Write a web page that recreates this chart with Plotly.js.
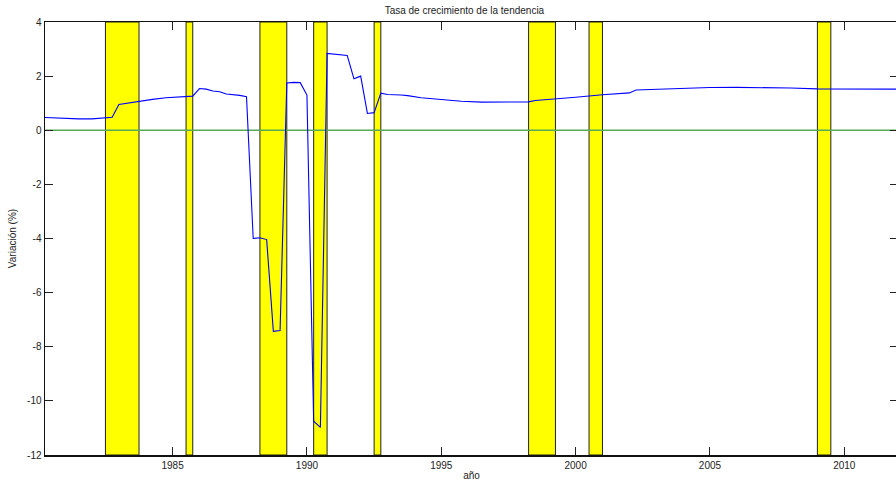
<!DOCTYPE html>
<html>
<head>
<meta charset="utf-8">
<script src="https://cdn.plot.ly/plotly-3.0.1.min.js"></script>
<style>
html,body{margin:0;padding:0;overflow:hidden;background:#fff;}
#chart{width:900px;height:482px;}
</style>
</head>
<body>
<div id="chart"></div>
<script>
// Trend growth rate (quarterly, %)
var years = [1980.25,1980.75,1981.5,1982.0,1982.5,1982.75,1983.0,1983.25,1983.75,1984.25,1984.75,1985.25,1985.75,
  1986.0,1986.25,1986.5,1986.75,1987.0,1987.25,1987.5,1987.75,1988.0,1988.25,1988.5,1988.75,1989.0,1989.25,1989.5,1989.75,
  1990.0,1990.25,1990.5,1990.75,1991.0,1991.25,1991.5,1991.75,1992.0,1992.25,1992.5,1992.75,1993.0,1993.5,1993.75,
  1994.25,1995.0,1995.75,1996.5,1997.5,1998.25,1998.5,1999.25,2000.0,2001.0,2002.0,2002.25,2003.0,2004.0,2005.0,
  2006.0,2007.0,2008.0,2009.0,2010.0,2011.0,2012.0];
var growth = [0.47,0.44,0.42,0.42,0.46,0.48,0.95,0.99,1.07,1.14,1.20,1.24,1.26,
  1.54,1.52,1.45,1.42,1.34,1.32,1.29,1.24,-4.00,-3.97,-4.04,-7.43,-7.40,1.75,1.77,1.76,
  1.30,-10.75,-10.98,2.84,2.81,2.79,2.76,1.90,2.00,0.62,0.65,1.37,1.32,1.30,1.28,
  1.20,1.13,1.07,1.04,1.04,1.05,1.10,1.15,1.22,1.31,1.38,1.49,1.52,1.56,1.58,
  1.585,1.58,1.56,1.53,1.52,1.52,1.52];
// Recession bands
var bandStart = [1982.5,1985.5,1988.25,1990.25,1992.5,1998.25,2000.5,2009.0];
var bandEnd   = [1983.75,1985.75,1989.25,1990.75,1992.75,1999.25,2001.0,2009.5];
var xRange = [1980.25,2012.0];
var zeroX = [1980.25,2012.0];
var zeroY = [0,0];
var xTickVals = [1985,1990,1995,2000,2005,2010];
var xTickText = ['1985','1990','1995','2000','2005','2010'];
var yTickVals = [4,2,0,-2,-4,-6,-8,-10,-12];
var yTickText = ['4','2','0','-2','-4','-6','-8','-10','-12'];

var shapes = bandStart.map(function(s,i){
  return {type:'rect', xref:'x', yref:'paper', x0:s, x1:bandEnd[i], y0:0, y1:1,
    fillcolor:'#ffff00', line:{color:'#222', width:1}, layer:'below'};
});

var traces = [
  {x:zeroX, y:zeroY, type:'scatter', mode:'lines', line:{color:'#55aa55', width:1.6}, hoverinfo:'skip', showlegend:false},
  {x:years, y:growth, type:'scatter', mode:'lines', line:{color:'#0000ff', width:1.1}, showlegend:false}
];

var fnt = {family:'"Liberation Sans", Arial, sans-serif', size:10, color:'#222'};
var layout = {
  width:900, height:482,
  margin:{l:45, r:2, t:22, b:27},
  paper_bgcolor:'#fff', plot_bgcolor:'#fff',
  font:fnt,
  title:{text:'Tasa de crecimiento de la tendencia', font:{family:fnt.family, size:10, color:'#222'},
    xref:'container', x:0.516, xanchor:'center', yref:'container', y:0.979, yanchor:'middle'},
  xaxis:{range:xRange, tickvals:xTickVals, ticktext:xTickText, ticks:'inside', ticklen:8, tickwidth:1, tickcolor:'#222',
    showline:true, linecolor:'#111', linewidth:1.5, mirror:'ticks', showgrid:false, zeroline:false,
    tickfont:fnt, automargin:false,
    title:{text:'año', font:{family:fnt.family, size:10, color:'#222'}, standoff:2}},
  yaxis:{range:[-12,4], tickvals:yTickVals, ticktext:yTickText, ticks:'inside', ticklen:8, tickwidth:1, tickcolor:'#222',
    showline:true, linecolor:'#111', linewidth:1.5, mirror:'ticks', showgrid:false, zeroline:false,
    tickfont:fnt, automargin:false,
    title:{text:'Variación (%)', font:{family:fnt.family, size:10, color:'#222'}, standoff:8}},
  shapes:shapes
};
Plotly.newPlot('chart', traces, layout, {displayModeBar:false, staticPlot:true});
</script>
</body>
</html>
